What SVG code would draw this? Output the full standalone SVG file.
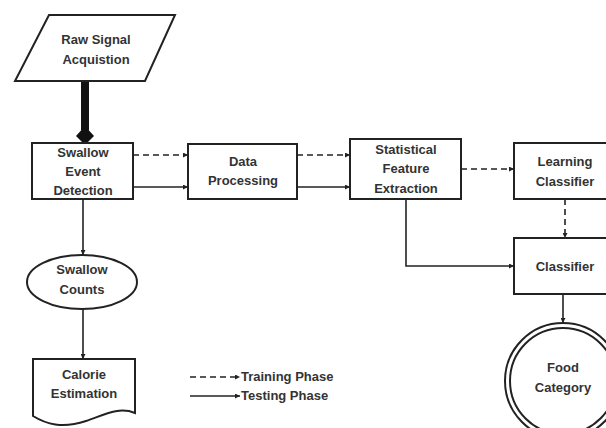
<svg xmlns="http://www.w3.org/2000/svg" width="606" height="428" viewBox="0 0 606 428">
<style>
.n{fill:#fff;stroke:#222;stroke-width:2}
.t{font-family:"Liberation Sans",Arial,sans-serif;font-weight:bold;font-size:13px;fill:#333;text-anchor:middle}
.lt{font-family:"Liberation Sans",Arial,sans-serif;font-weight:bold;font-size:13px;fill:#333}
.c{fill:none;stroke:#222;stroke-width:1.6}
.d{stroke-dasharray:6,4}
</style>
<defs>
<marker id="ah" viewBox="0 0 10 10" refX="10" refY="5" markerWidth="5" markerHeight="5" orient="auto" markerUnits="userSpaceOnUse">
<path d="M0,0 L10,5 L0,10 Z" fill="#222"/>
</marker>
</defs>
<rect width="606" height="428" fill="#fff"/>

<g id="connectors">
<line x1="85" y1="81" x2="85" y2="130" stroke="#111" stroke-width="8"/>
<polygon points="85,126 94,136 85,145 76,136" fill="#111"/>
<line class="c d" x1="133" y1="155" x2="188" y2="155" marker-end="url(#ah)"/>
<line class="c" x1="133" y1="187" x2="188" y2="187" marker-end="url(#ah)"/>
<line class="c d" x1="297" y1="155" x2="350" y2="155" marker-end="url(#ah)"/>
<line class="c" x1="297" y1="187" x2="350" y2="187" marker-end="url(#ah)"/>
<line class="c d" x1="461" y1="169" x2="514" y2="169" marker-end="url(#ah)"/>
<line class="c d" x1="565" y1="199" x2="565" y2="238" marker-end="url(#ah)"/>
<polyline class="c" points="406,199 406,266 514,266" marker-end="url(#ah)"/>
<line class="c" x1="563" y1="294" x2="563" y2="323" marker-end="url(#ah)"/>
<line class="c" x1="83" y1="199" x2="83" y2="255" marker-end="url(#ah)"/>
<line class="c" x1="83" y1="309" x2="83" y2="359" marker-end="url(#ah)"/>
</g>

<g id="raw">
<polygon class="n" points="49,15 175,15 145,81 15,81"/>
<text class="t" x="96" y="44">Raw Signal</text>
<text class="t" x="96" y="64">Acquistion</text>
</g>

<g id="swallow-event">
<rect class="n" x="32" y="143" width="101" height="56"/>
<text class="t" x="83" y="157">Swallow</text>
<text class="t" x="83" y="176">Event</text>
<text class="t" x="83" y="195">Detection</text>
</g>

<g id="data-processing">
<rect class="n" x="188" y="144" width="109" height="55"/>
<text class="t" x="243" y="166">Data</text>
<text class="t" x="243" y="185">Processing</text>
</g>

<g id="feature">
<rect class="n" x="350" y="139" width="111" height="60"/>
<text class="t" x="406" y="154">Statistical</text>
<text class="t" x="406" y="173">Feature</text>
<text class="t" x="406" y="193">Extraction</text>
</g>

<g id="learning">
<rect class="n" x="514" y="143" width="104" height="56"/>
<text class="t" x="565" y="166">Learning</text>
<text class="t" x="565" y="186">Classifier</text>
</g>

<g id="classifier">
<rect class="n" x="514" y="238" width="104" height="56"/>
<text class="t" x="565" y="271">Classifier</text>
</g>

<g id="food">
<circle class="n" cx="563" cy="381" r="58"/>
<circle fill="none" stroke="#222" stroke-width="2" cx="563" cy="381" r="53"/>
<text class="t" x="563" y="372">Food</text>
<text class="t" x="563" y="392">Category</text>
</g>

<g id="counts">
<ellipse class="n" cx="82" cy="282" rx="55" ry="27"/>
<text class="t" x="82" y="274">Swallow</text>
<text class="t" x="82" y="294">Counts</text>
</g>

<g id="calorie">
<path class="n" d="M33,359 H135 V413 C118,406 102,416 86,421 C62,429 46,424 33,416 Z"/>
<text class="t" x="84" y="379">Calorie</text>
<text class="t" x="84" y="398">Estimation</text>
</g>

<g id="legend">
<line class="c d" x1="190" y1="377" x2="240" y2="377" marker-end="url(#ah)"/>
<text class="lt" x="241" y="381">Training Phase</text>
<line class="c" x1="190" y1="396" x2="240" y2="396" marker-end="url(#ah)"/>
<text class="lt" x="241" y="400">Testing Phase</text>
</g>
</svg>
